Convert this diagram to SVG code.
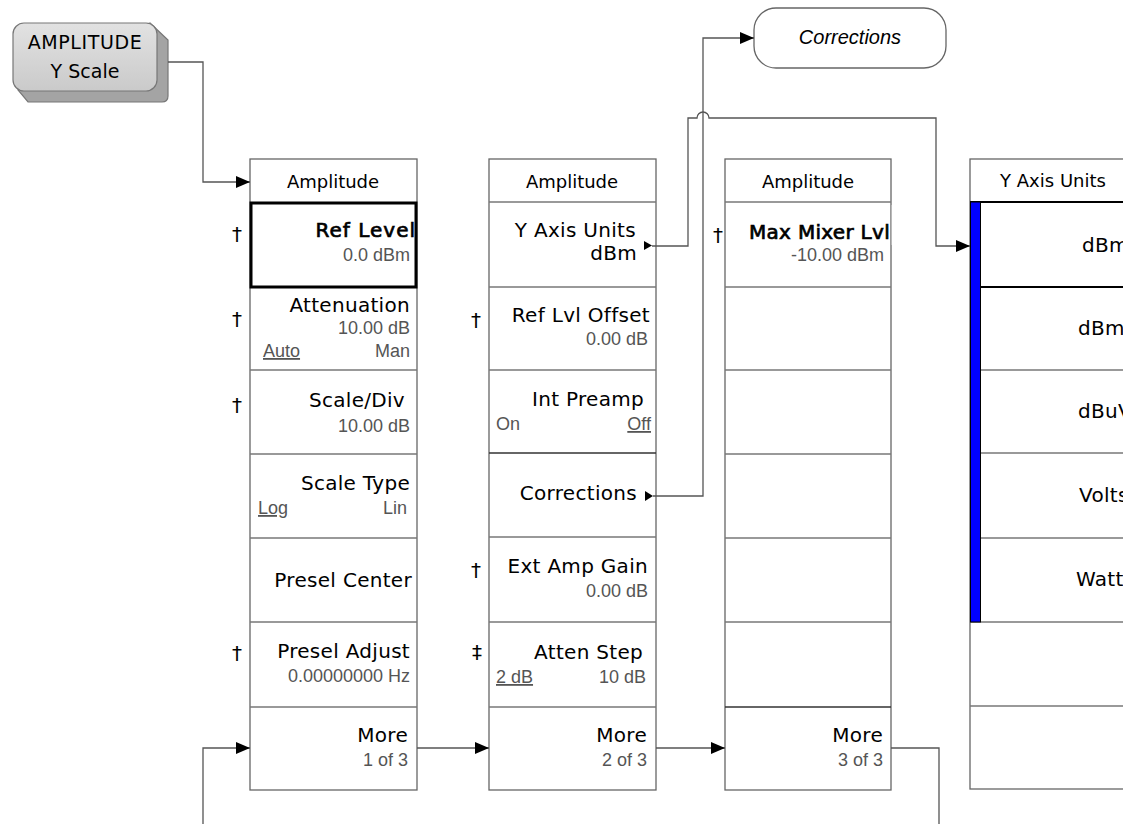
<svg xmlns="http://www.w3.org/2000/svg" width="1123" height="824" viewBox="0 0 1123 824">
<style>
.box{fill:#fff;stroke:#666;stroke-width:1.3}
.sep{stroke:#777;stroke-width:1.3}
.thick{fill:none;stroke:#000;stroke-width:3}
.lbl{font-family:"DejaVu Sans",sans-serif;font-size:20px;fill:#000;text-anchor:end;letter-spacing:0.3px}
.fb{stroke:#000;stroke-width:0.7px}
.hdr{font-family:"DejaVu Sans",sans-serif;font-size:18px;fill:#000;text-anchor:middle}
.sub{font-family:"Liberation Sans",sans-serif;font-size:18px;fill:#555;text-anchor:end}
.dag{font-family:"DejaVu Sans",sans-serif;font-size:20px;fill:#000;text-anchor:middle}
.u{text-decoration:underline}
.lbl.st,.sub.st{text-anchor:start}
.conn{fill:none;stroke:#555;stroke-width:1.3}
.tri{fill:#000}
</style>
<defs>
<marker id="arr" markerUnits="userSpaceOnUse" markerWidth="14" markerHeight="12" refX="14" refY="6" orient="auto">
<path d="M0,0 L14,6 L0,12 Z" fill="#000"/>
</marker>
<linearGradient id="keyg" x1="0" y1="0" x2="0" y2="1">
<stop offset="0" stop-color="#e2e2e2"/>
<stop offset="1" stop-color="#cacaca"/>
</linearGradient>
</defs>

<g id="amplitude-key">
<path d="M150,23 L168,40 L168,96 Q168,102 162,102 L28,102 L18,90 Z" fill="#a4a4a4" stroke="#777" stroke-width="1.2"/>
<rect x="13" y="23" width="144" height="68" rx="11" fill="url(#keyg)" stroke="#777" stroke-width="1.2"/>
<text x="85" y="49" class="hdr" style="font-size:19px;letter-spacing:0.6px">AMPLITUDE</text>
<text x="85" y="78" class="hdr" style="font-size:19px">Y Scale</text>
</g>

<g id="corrections-ref">
<rect x="754" y="8" width="192" height="60" rx="22" fill="#fff" stroke="#666" stroke-width="1.3"/>
<text x="850" y="44" font-family="Liberation Sans, sans-serif" font-size="20" font-style="italic" text-anchor="middle" fill="#000">Corrections</text>
</g>

<g id="menu1">
<rect class="box" x="250" y="159" width="167" height="631"/>
<line class="sep" x1="250" y1="370" x2="417" y2="370"/>
<line class="sep" x1="250" y1="454" x2="417" y2="454"/>
<line class="sep" x1="250" y1="538" x2="417" y2="538"/>
<line class="sep" x1="250" y1="622" x2="417" y2="622"/>
<line class="sep" x1="250" y1="707" x2="417" y2="707"/>
<text class="hdr" x="333" y="188">Amplitude</text>
<text class="lbl fb" x="416" y="237" style="letter-spacing:1px">Ref Level</text>
<text class="sub" x="410" y="261">0.0 dBm</text>
<rect class="thick" x="251" y="203" width="165" height="84"/>
<text class="dag" x="237" y="241">†</text>
<text class="lbl" x="410" y="312">Attenuation</text>
<text class="sub" x="410" y="334">10.00 dB</text>
<text class="sub st u" x="263" y="357">Auto</text>
<text class="sub" x="410" y="357">Man</text>
<text class="dag" x="237" y="326">†</text>
<text class="lbl" x="405" y="407">Scale/Div</text>
<text class="sub" x="410" y="432">10.00 dB</text>
<text class="dag" x="237" y="412">†</text>
<text class="lbl" x="410" y="490">Scale Type</text>
<text class="sub st u" x="258" y="514">Log</text>
<text class="sub" x="407" y="514">Lin</text>
<text class="lbl" x="412" y="587">Presel Center</text>
<text class="lbl" x="410" y="658">Presel Adjust</text>
<text class="sub" x="410" y="682">0.00000000 Hz</text>
<text class="dag" x="237" y="660">†</text>
<text class="lbl" x="408" y="742">More</text>
<text class="sub" x="408" y="766">1 of 3</text>
</g>

<g id="menu2">
<rect class="box" x="489" y="159" width="167" height="631"/>
<line class="sep" x1="489" y1="202" x2="656" y2="202"/>
<line class="sep" x1="489" y1="287" x2="656" y2="287"/>
<line class="sep" x1="489" y1="370" x2="656" y2="370"/>
<line class="sep" x1="489" y1="453" x2="656" y2="453" style="stroke:#333"/>
<line class="sep" x1="489" y1="537" x2="656" y2="537"/>
<line class="sep" x1="489" y1="622" x2="656" y2="622"/>
<line class="sep" x1="489" y1="707" x2="656" y2="707"/>
<text class="hdr" x="572" y="188">Amplitude</text>
<text class="lbl" x="636" y="237">Y Axis Units</text>
<text class="lbl" x="637" y="260">dBm</text>
<path class="tri" d="M644,241 L652,245.5 L644,250 Z"/>
<text class="lbl" x="650" y="322">Ref Lvl Offset</text>
<text class="sub" x="648" y="345">0.00 dB</text>
<text class="dag" x="476" y="327">†</text>
<text class="lbl" x="644" y="406">Int Preamp</text>
<text class="sub st" x="496" y="430">On</text>
<text class="sub u" x="651" y="430">Off</text>
<text class="lbl" x="637" y="500">Corrections</text>
<path class="tri" d="M645,491 L653,496 L645,501 Z"/>
<text class="lbl" x="648" y="573">Ext Amp Gain</text>
<text class="sub" x="648" y="597">0.00 dB</text>
<text class="dag" x="476" y="577">†</text>
<text class="lbl" x="643" y="659">Atten Step</text>
<text class="sub st u" x="496" y="683">2 dB</text>
<text class="sub" x="646" y="683">10 dB</text>
<text class="dag" x="477" y="659">‡</text>
<text class="lbl" x="647" y="742">More</text>
<text class="sub" x="647" y="766">2 of 3</text>
</g>

<g id="menu3">
<rect class="box" x="725" y="159" width="166" height="631"/>
<line class="sep" x1="725" y1="202" x2="891" y2="202"/>
<line class="sep" x1="725" y1="287" x2="891" y2="287"/>
<line class="sep" x1="725" y1="370" x2="891" y2="370"/>
<line class="sep" x1="725" y1="454" x2="891" y2="454"/>
<line class="sep" x1="725" y1="538" x2="891" y2="538"/>
<line class="sep" x1="725" y1="622" x2="891" y2="622"/>
<line class="sep" x1="725" y1="707" x2="891" y2="707" style="stroke:#333"/>
<text class="hdr" x="808" y="188">Amplitude</text>
<text class="lbl fb st" x="749" y="239">Max Mixer Lvl</text>
<rect x="891.7" y="205" width="20" height="40" fill="#fff"/>
<text class="sub" x="884" y="261">-10.00 dBm</text>
<text class="dag" x="718" y="242">†</text>
<text class="lbl" x="883" y="742">More</text>
<text class="sub" x="883" y="766">3 of 3</text>
</g>

<g id="menu4">
<rect class="box" x="970" y="159" width="170" height="630"/>
<line class="sep" x1="970" y1="370" x2="1140" y2="370"/>
<line class="sep" x1="970" y1="453" x2="1140" y2="453"/>
<line class="sep" x1="970" y1="538" x2="1140" y2="538"/>
<line class="sep" x1="970" y1="622" x2="1140" y2="622"/>
<line class="sep" x1="970" y1="706" x2="1140" y2="706"/>
<line x1="970" y1="202" x2="1140" y2="202" stroke="#000" stroke-width="2"/>
<line x1="970" y1="287" x2="1140" y2="287" stroke="#000" stroke-width="2"/>
<rect x="970.5" y="202" width="10" height="420" fill="#0000ff" stroke="#000" stroke-width="1"/>
<text class="hdr" x="1053" y="187">Y Axis Units</text>
<text class="lbl st" x="1082" y="252">dBm</text>
<text class="lbl st" x="1078" y="335">dBmV</text>
<text class="lbl st" x="1078" y="418">dBuV</text>
<text class="lbl st" x="1079" y="502">Volts</text>
<text class="lbl st" x="1076" y="586">Watts</text>
</g>

<g id="connectors">
<polyline class="conn" points="168,62 203,62 203,182 250,182" marker-end="url(#arr)"/>
<polyline class="conn" points="203,824 203,748 250,748" marker-end="url(#arr)"/>
<polyline class="conn" points="417,748 489,748" marker-end="url(#arr)"/>
<polyline class="conn" points="656,748 725,748" marker-end="url(#arr)"/>
<polyline class="conn" points="891,748 939,748 939,824"/>
<path class="conn" d="M652,246 H688 V118 H697 A6,6 0 0 1 709,118 H936 V246 H970" marker-end="url(#arr)"/>
<polyline class="conn" points="653,496 703,496 703,38 754,38" marker-end="url(#arr)"/>
</g>
</svg>
